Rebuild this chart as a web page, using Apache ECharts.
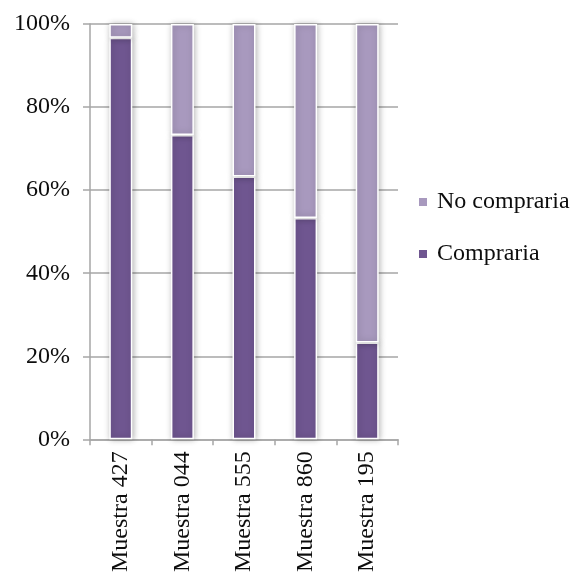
<!DOCTYPE html>
<html>
<head>
<meta charset="utf-8">
<script src="https://cdn.jsdelivr.net/npm/echarts@6/dist/echarts.min.js"></script>
<style>
  html, body { margin: 0; padding: 0; background: #ffffff; }
  #chart { width: 570px; height: 575px; }
</style>
</head>
<body>
<div id="chart"></div>
<script>
// Muestras evaluadas (eje de categorías)
const categories = ['Muestra 427', 'Muestra 044', 'Muestra 555', 'Muestra 860', 'Muestra 195'];
// Porcentaje de panelistas que compraría / no compraría cada muestra
const compraria = [96.7, 73.3, 63.3, 53.3, 23.3];
const noCompraria = [3.3, 26.7, 36.7, 46.7, 76.7];
// Marcas del eje vertical
const yTicks = [0, 20, 40, 60, 80, 100];

const fontFamily = '"Liberation Serif", "Times New Roman", serif';
const darkPurple = '#6f5690';
const lightPurple = '#a899be';
const gridGray = '#a6a6a6';
const textColor = '#0d0d0d';

const barStyle = (color) => ({
  color: color,
  borderColor: '#ffffff',
  borderWidth: 1.5,
  shadowColor: 'rgba(0,0,0,0.28)',
  shadowBlur: 6,
  shadowOffsetX: 1,
  shadowOffsetY: 0
});

const chart = echarts.init(document.getElementById('chart'), null, { renderer: 'canvas' });
chart.setOption({
  backgroundColor: '#ffffff',
  animation: false,
  textStyle: { fontFamily: fontFamily },
  grid: { left: 90, right: 172, top: 24, bottom: 135 },
  legend: {
    orient: 'vertical',
    left: 417,
    top: 190,
    padding: 0,
    itemWidth: 10,
    itemHeight: 10,
    itemGap: 28,
    icon: 'rect',
    data: ['No compraria', 'Compraria'],
    textStyle: {
      fontFamily: fontFamily,
      fontSize: 24,
      lineHeight: 24,
      color: textColor,
      padding: [0, 0, 0, 4]
    }
  },
  xAxis: {
    type: 'category',
    data: categories,
    boundaryGap: true,
    axisLine: { lineStyle: { color: gridGray, width: 1.5 } },
    axisTick: { show: true, length: 6, alignWithLabel: false, lineStyle: { color: gridGray, width: 1.5 } },
    axisLabel: {
      rotate: 90,
      margin: 12,
      fontFamily: fontFamily,
      fontSize: 24,
      color: textColor
    }
  },
  yAxis: {
    type: 'value',
    min: yTicks[0],
    max: yTicks[yTicks.length - 1],
    interval: yTicks[1] - yTicks[0],
    axisLine: { show: true, lineStyle: { color: gridGray, width: 1.5 } },
    axisTick: { show: true, length: 7, lineStyle: { color: gridGray, width: 1.5 } },
    splitLine: { show: true, lineStyle: { color: gridGray, width: 1.5 } },
    axisLabel: {
      margin: 20,
      fontFamily: fontFamily,
      fontSize: 24,
      color: textColor,
      formatter: (v) => v + '%'
    }
  },
  series: [
    {
      name: 'Compraria',
      type: 'bar',
      stack: 'total',
      barWidth: 23,
      data: compraria,
      itemStyle: barStyle(darkPurple)
    },
    {
      name: 'No compraria',
      type: 'bar',
      stack: 'total',
      barWidth: 23,
      data: noCompraria,
      itemStyle: barStyle(lightPurple)
    }
  ]
});
</script>
</body>
</html>
